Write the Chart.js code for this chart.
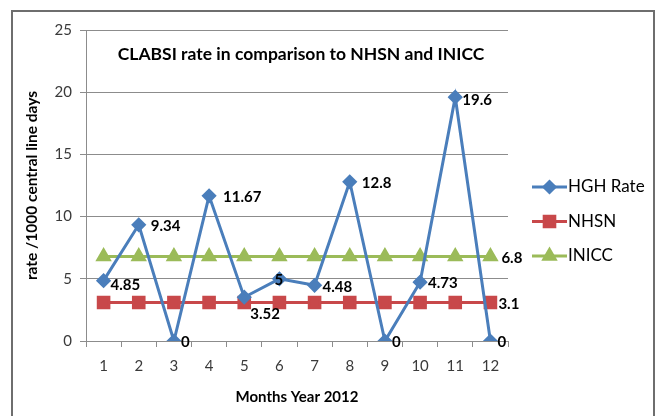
<!DOCTYPE html>
<html>
<head>
<meta charset="utf-8">
<script src="https://cdn.jsdelivr.net/npm/chart.js@4/dist/chart.umd.min.js"></script>
<style>
  html, body { margin: 0; padding: 0; background: #fff; }
  body { position: relative; width: 661px; height: 416px; overflow: hidden; }
  #frame { position: absolute; left: 11px; top: 10px; width: 640px; height: 420px; border: 2px solid #6e6e6e; border-bottom: none; }
  #wrap { position: absolute; left: 0; top: 0; width: 661px; height: 416px; }
</style>
</head>
<body>
<div id="frame"></div>
<div id="wrap"><canvas id="chart" width="661" height="416"></canvas></div>
<script>
const months = ['1', '2', '3', '4', '5', '6', '7', '8', '9', '10', '11', '12'];
const hghRate = [4.85, 9.34, 0, 11.67, 3.52, 5, 4.48, 12.8, 0, 4.73, 19.6, 0];
const nhsn = [3.1, 3.1, 3.1, 3.1, 3.1, 3.1, 3.1, 3.1, 3.1, 3.1, 3.1, 3.1];
const inicc = [6.8, 6.8, 6.8, 6.8, 6.8, 6.8, 6.8, 6.8, 6.8, 6.8, 6.8, 6.8];
const yMin = 0, yMax = 25, yStep = 5;

const chartTitle = 'CLABSI rate in comparison to NHSN and INICC';
const xTitle = 'Months Year 2012';
const yTitle = 'rate /1000 central line days';

// where each value label sits relative to its point (Excel placed a couple by hand)
const hghLabelShift = [[7, 4], [12, 1], [7, 1], [14, 1], [6, 17], [-5, 1], [8, 2], [12, 1], [7, 1], [8, 1], [7, 3], [7, 1]];

document.addEventListener('DOMContentLoaded', () => {
    Chart.defaults.font.family = 'Lato, "Open Sans", sans-serif';
    Chart.defaults.color = '#3a3a3a';
    const gridColor = '#8c8c8c';

    const pointLabels = {
        id: 'pointLabels',
        afterDatasetsDraw(chart) {
            const ctx = chart.ctx;
            ctx.save();
            ctx.font = 'bold 15px Lato';
            ctx.fillStyle = '#000';
            ctx.textBaseline = 'middle';
            chart.data.datasets.forEach((ds, i) => {
                const meta = chart.getDatasetMeta(i);
                meta.data.forEach((pt, j) => {
                    if (ds.labelLast && j !== ds.data.length - 1) return;
                    const shift = ds.labelShift ? ds.labelShift[j] : [8, 2];
                    ctx.fillText(String(ds.data[j]), pt.x + shift[0], pt.y + shift[1]);
                });
            });
            ctx.restore();
        }
    };

    const innerTitle = {
        id: 'innerTitle',
        afterDraw(chart) {
            const { ctx, chartArea } = chart;
            ctx.save();
            ctx.font = 'bold 17.5px Lato';
            ctx.fillStyle = '#000';
            ctx.textAlign = 'center';
            ctx.textBaseline = 'middle';
            ctx.fillText(chartTitle, (chartArea.left + chartArea.right) / 2 + 4, chartArea.top + 24);
            ctx.restore();
        }
    };

    // Excel style legend: short line with the marker on it
    const sideLegend = {
        id: 'sideLegend',
        afterDraw(chart) {
            const { ctx, chartArea } = chart;
            const x0 = chartArea.right + 24, x1 = chartArea.right + 59;
            ctx.save();
            chart.data.datasets.forEach((ds, i) => {
                const y = chartArea.top + 157 + i * 34.5;
                ctx.strokeStyle = ds.borderColor;
                ctx.lineWidth = 3;
                ctx.beginPath();
                ctx.moveTo(x0, y);
                ctx.lineTo(x1, y);
                ctx.stroke();
                ctx.fillStyle = ds.pointBackgroundColor;
                ctx.strokeStyle = ds.pointBorderColor;
                Chart.helpers.drawPoint(ctx, { pointStyle: ds.pointStyle, radius: ds.pointRadius, borderWidth: 1, rotation: 0 }, (x0 + x1) / 2, y);
                ctx.fillStyle = '#000';
                ctx.font = '17px Lato';
                ctx.textBaseline = 'middle';
                ctx.fillText(ds.label, x1 + 1, y);
            });
            ctx.restore();
        }
    };

    new Chart(document.getElementById('chart'), {
        type: 'line',
        data: {
            labels: months,
            datasets: [
                { label: 'HGH Rate', data: hghRate, borderColor: '#4a7ebb', borderWidth: 3, pointStyle: 'rectRot', pointRadius: 5.5,
                  pointBackgroundColor: '#4a7ebb', pointBorderColor: '#4a7ebb', tension: 0, labelShift: hghLabelShift },
                { label: 'NHSN', data: nhsn, borderColor: '#c8484a', borderWidth: 3, pointStyle: 'rect', pointRadius: 7.5,
                  pointBackgroundColor: '#c8484a', pointBorderColor: '#c8484a', labelLast: true, labelShift: Array(12).fill([8, 2]) },
                { label: 'INICC', data: inicc, borderColor: '#9bbb59', borderWidth: 3, pointStyle: 'triangle', pointRadius: 6.5,
                  pointBackgroundColor: '#9bbb59', pointBorderColor: '#9bbb59', labelLast: true, labelShift: Array(12).fill([11, 2]) }
            ]
        },
        options: {
            responsive: false,
            animation: false,
            layout: { padding: { left: 11, right: 153, top: 30, bottom: 0 } },
            plugins: { legend: { display: false }, tooltip: { enabled: false } },
            scales: {
                x: {
                    offset: true,
                    grid: { offset: true, drawOnChartArea: false, drawTicks: true, tickLength: 6, color: gridColor },
                    border: { color: gridColor },
                    ticks: { font: { size: 15 }, padding: 10, maxRotation: 0 },
                    title: { display: true, text: xTitle, color: '#000', font: { size: 15, weight: 'bold' }, padding: { top: 0, bottom: 10 } },
                    afterFit: scale => { scale.height = 75; }
                },
                y: {
                    min: yMin, max: yMax,
                    grid: { color: gridColor, tickLength: 6 },
                    border: { color: gridColor },
                    ticks: { stepSize: yStep, font: { size: 15 }, padding: 8 },
                    title: { display: true, text: yTitle, color: '#000', font: { size: 15.5, weight: 'bold' }, padding: { top: 12, bottom: 0 } },
                    afterFit: scale => { scale.width = 75; }
                }
            }
        },
        plugins: [pointLabels, innerTitle, sideLegend]
    });
});
</script>
</body>
</html>
